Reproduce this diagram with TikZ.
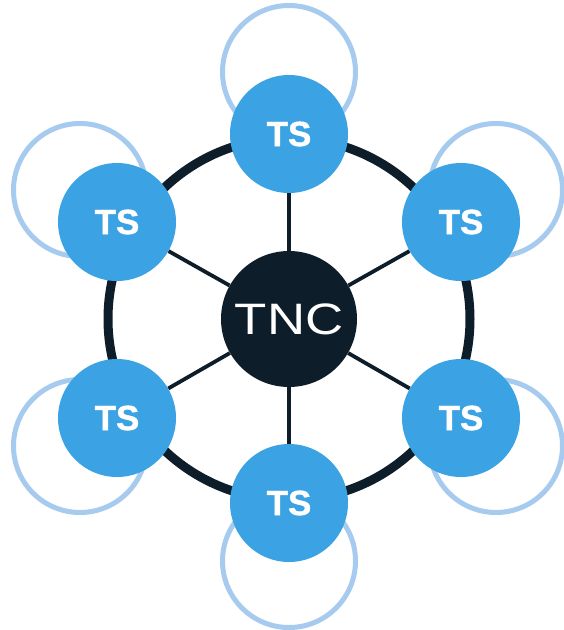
\documentclass[tikz,border=0pt]{standalone}
\usepackage{fontspec}
\usepackage{graphicx}
\setmainfont{Liberation Sans}
\usetikzlibrary{backgrounds}
\definecolor{tsblue}{HTML}{3BA2E3}
\definecolor{halocol}{HTML}{A6CBEE}
\definecolor{navy}{HTML}{0E1D2A}
\begin{document}
\begin{tikzpicture}[x=1pt,y=-1pt,
  tsnode/.style={circle, fill=tsblue, minimum size=118pt, inner sep=0pt, text=white,
    font=\fontsize{35}{35}\selectfont\bfseries\addfontfeature{FakeBold=1.2}},
  tncnode/.style={circle, fill=navy, minimum size=136pt, inner sep=0pt, text=white,
    font=\fontsize{44}{44}\selectfont},
  halonode/.style={circle, draw=halocol, line width=5pt, minimum size=133pt, inner sep=0pt},
  ringline/.style={draw=navy, line width=9pt},
  spoke/.style={draw=navy, line width=3.8pt}]
\useasboundingbox (0,0) rectangle (563,630);
\begin{pgfonlayer}{background}
  \node[halonode] (h1) at (289,72) {};
  \node[halonode] (h2) at (496,190) {};
  \node[halonode] (h3) at (496,446) {};
  \node[halonode] (h4) at (289,561) {};
  \node[halonode] (h5) at (80,446) {};
  \node[halonode] (h6) at (80,190) {};
\end{pgfonlayer}
\node[tncnode] (tnc) at (289,319) {\scalebox{1.2}[1]{TNC}};
\node[tsnode] (t1) at (289,134) {TS};
\node[tsnode] (t2) at (461,222) {TS};
\node[tsnode] (t3) at (461,418) {TS};
\node[tsnode] (t4) at (289,503) {TS};
\node[tsnode] (t5) at (117,418) {TS};
\node[tsnode] (t6) at (117,222) {TS};
\begin{pgfonlayer}{background}
  \draw[ringline] (tnc.center) circle (181);
  \foreach \t in {t1,t2,t3,t4,t5,t6} \draw[spoke] (tnc) -- (\t);
\end{pgfonlayer}
\end{tikzpicture}
\end{document}
